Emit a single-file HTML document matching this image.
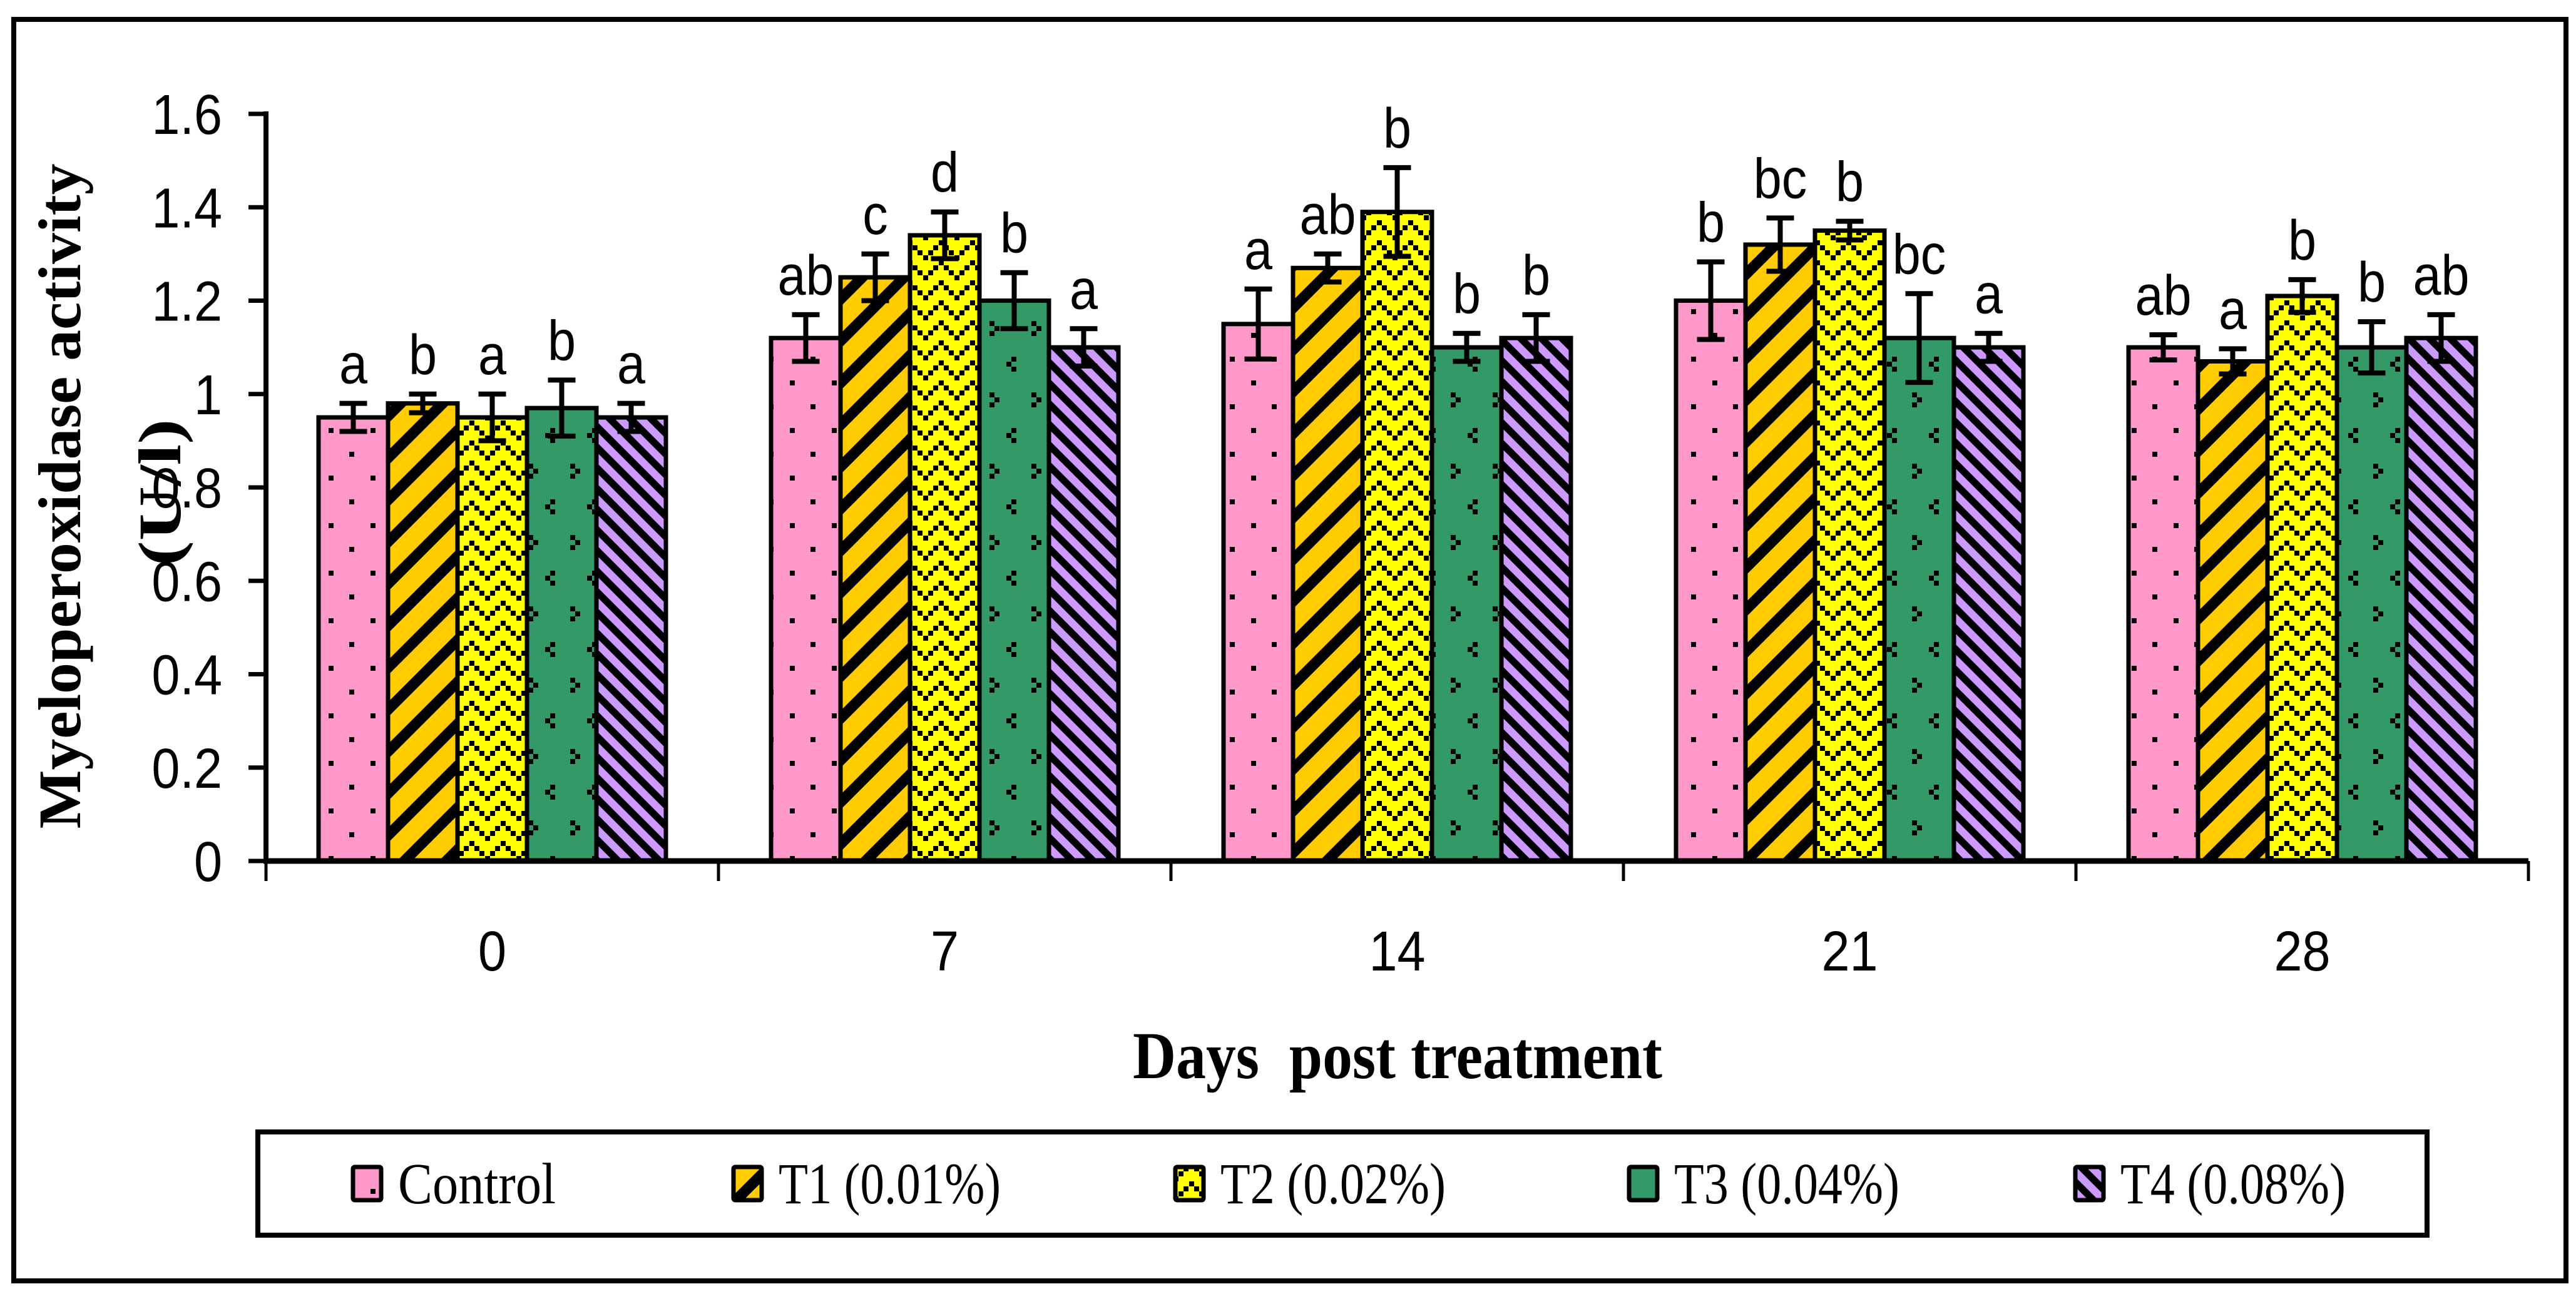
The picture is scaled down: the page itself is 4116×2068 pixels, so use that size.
<!DOCTYPE html>
<html><head><meta charset="utf-8"><style>
html,body{margin:0;padding:0;background:#fff;}
svg{display:block;}
</style></head><body>
<svg id="chart" xmlns="http://www.w3.org/2000/svg" width="4116" height="2068" viewBox="0 0 4116 2068">
<defs>
<pattern id="pCtrl" patternUnits="userSpaceOnUse" width="67" height="76" x="525" y="0">
<rect width="67" height="76" fill="#FF99CC"/>
<rect x="0" y="0" width="8" height="8" fill="#000"/>
<rect x="33" y="38" width="8" height="8" fill="#000"/>
</pattern>
<pattern id="pT1" patternUnits="userSpaceOnUse" width="67" height="67" patternTransform="skewX(-45)">
<rect width="67" height="67" fill="#FFCC00"/>
<rect x="0" y="0" width="24" height="67" fill="#000"/>
</pattern>
<pattern id="pT2" patternUnits="userSpaceOnUse" width="50" height="32">
<rect width="50" height="32" fill="#FFFF00"/>
<g fill="#000">
<rect x="0" y="0" width="8" height="8"/><rect x="8" y="8" width="8" height="8"/><rect x="16" y="16" width="8" height="8"/><rect x="25" y="24" width="8" height="8"/>
<rect x="33" y="16" width="8" height="8"/><rect x="41" y="8" width="8" height="8"/>
</g>
</pattern>
<pattern id="pT3" patternUnits="userSpaceOnUse" width="67" height="114">
<rect width="67" height="114" fill="#339966"/>
<g fill="#000">
<rect x="8" y="0" width="8" height="8"/><rect x="0" y="8" width="8" height="8"/><rect x="8" y="16" width="8" height="8"/>
<rect x="40" y="57" width="8" height="8"/><rect x="48" y="65" width="8" height="8"/><rect x="40" y="73" width="8" height="8"/>
</g>
</pattern>
<pattern id="pT4" patternUnits="userSpaceOnUse" width="33" height="33" patternTransform="skewX(45)">
<rect width="33" height="33" fill="#CC99FF"/>
<rect x="0" y="0" width="16" height="33" fill="#000"/>
</pattern>
</defs>
<rect x="22" y="31" width="4078" height="2016" fill="none" stroke="#000" stroke-width="8"/>
<g id="plot"></g>
<text transform="translate(128,793) rotate(-90)" text-anchor="middle" font-family="Liberation Serif, serif" font-weight="bold" font-size="96" textLength="1063" lengthAdjust="spacingAndGlyphs">Myeloperoxidase activity</text>
<text transform="translate(288,787) rotate(-90)" text-anchor="middle" font-family="Liberation Serif, serif" font-weight="bold" font-size="96" textLength="235" lengthAdjust="spacingAndGlyphs">(U/l)</text>
<text x="1810" y="1723" font-family="Liberation Serif, serif" font-weight="bold" font-size="107" textLength="846" lengthAdjust="spacingAndGlyphs" xml:space="preserve">Days  post treatment</text>
<rect x="412" y="1809" width="3466" height="165" fill="#fff" stroke="#000" stroke-width="8"/>
<g id="legend"></g>
</svg>
<script>
const categories = ["0","7","14","21","28"];
const seriesNames = ["Control","T1 (0.01%)","T2 (0.02%)","T3 (0.04%)","T4 (0.08%)"];
const control = [0.95,1.12,1.15,1.20,1.10];
const t1 = [0.98,1.25,1.27,1.32,1.07];
const t2 = [0.95,1.34,1.39,1.35,1.21];
const t3 = [0.97,1.20,1.10,1.12,1.10];
const t4 = [0.95,1.10,1.12,1.10,1.12];
const errControl = [0.03,0.05,0.075,0.083,0.027];
const errT1 = [0.02,0.05,0.03,0.057,0.027];
const errT2 = [0.05,0.05,0.095,0.02,0.035];
const errT3 = [0.06,0.06,0.03,0.095,0.055];
const errT4 = [0.03,0.04,0.05,0.03,0.05];
const lettersControl = ["a","ab","a","b","ab"];
const lettersT1 = ["b","c","ab","bc","a"];
const lettersT2 = ["a","d","b","b","b"];
const lettersT3 = ["b","b","b","bc","b"];
const lettersT4 = ["a","a","b","a","ab"];
const yTicks = [0,0.2,0.4,0.6,0.8,1,1.2,1.4,1.6];
const yTickLabels = ["0","0.2","0.4","0.6","0.8","1","1.2","1.4","1.6"];

const NS="http://www.w3.org/2000/svg";
const X0=425, X1=4040, Y0=1376, Y1=182, YMAX=1.6;
const groupW=(X1-X0)/categories.length;
const barW=111;
function yScale(v){return Y0-(v/YMAX)*(Y0-Y1);}
function xGroup(i){return X0+groupW*(i+0.5);}
function xBar(i,s){return xGroup(i)-barW*2.5+s*barW;}
function mk(tag,attrs,parent){const e=document.createElementNS(NS,tag);for(const k in attrs)e.setAttribute(k,attrs[k]);parent.appendChild(e);return e;}
const plot=document.getElementById('plot');
const series=[control,t1,t2,t3,t4];
const errs=[errControl,errT1,errT2,errT3,errT4];
const letters=[lettersControl,lettersT1,lettersT2,lettersT3,lettersT4];
const fills=["url(#pCtrl)","url(#pT1)","url(#pT2)","url(#pT3)","url(#pT4)"];
const keys=["control","t1","t2","t3","t4"];

categories.forEach((c,i)=>{
  series.forEach((vals,s)=>{
    const x=xBar(i,s), y=yScale(vals[i]);
    const r=mk('rect',{x:x,y:y,width:barW,height:Y0-y,fill:fills[s],stroke:'#000','stroke-width':7},plot);
    
    
  });
});
categories.forEach((c,i)=>{
  series.forEach((vals,s)=>{
    const cx=xBar(i,s)+barW/2;
    const yt=yScale(vals[i]+errs[s][i]), yb=yScale(vals[i]-errs[s][i]);
    const g=mk('g',{stroke:'#000','stroke-width':8,fill:'none'},plot);
    
    
    mk('line',{x1:cx,y1:yt,x2:cx,y2:yb},g);
    mk('line',{x1:cx-22,y1:yt,x2:cx+22,y2:yt},g);
    mk('line',{x1:cx-22,y1:yb,x2:cx+22,y2:yb},g);
    const t=mk('text',{transform:'translate('+cx+','+(yt-32)+') scale(0.9,1)','text-anchor':'middle','font-family':'Liberation Sans, sans-serif','font-size':90,fill:'#000'},plot);
    t.textContent=letters[s][i];
    
    
  });
});
const ax=mk('g',{stroke:'#000'},plot);


mk('line',{x1:X0,y1:Y1-4,x2:X0,y2:Y0+4,'stroke-width':8},ax);
mk('line',{x1:X0-4,y1:Y0,x2:X1,y2:Y0,'stroke-width':9},ax);
yTicks.forEach((v,k)=>{
  const y=yScale(v);
  const l=mk('line',{x1:397,y1:y,x2:X0,y2:y,'stroke-width':7},ax);
  
  
  const t=mk('text',{transform:'translate(355,'+(y+32)+') scale(0.9,1)','text-anchor':'end','font-family':'Liberation Sans, sans-serif','font-size':90,fill:'#000'},plot);
  t.textContent=yTickLabels[k];
  
  
});
for(let i=0;i<=categories.length;i++){
  const x=X0+groupW*i;
  const l=mk('line',{x1:x,y1:Y0,x2:x,y2:1408,'stroke-width':5},ax);
  
  
}
categories.forEach((c,i)=>{
  const t=mk('text',{transform:'translate('+xGroup(i)+',1551) scale(0.9,1)','text-anchor':'middle','font-family':'Liberation Sans, sans-serif','font-size':90,fill:'#000'},plot);
  t.textContent=c;
  
  
});
const leg=document.getElementById('legend');
const legX=[561,1169,1875,2600,3313];
const legLen=[252,355,360,360,360];
seriesNames.forEach((n,s)=>{
  const g=mk('g',{},leg);
  
  
  mk('rect',{x:legX[s]+3,y:1865,width:45,height:53,fill:fills[s],stroke:'#000','stroke-width':7,rx:3},g);
  const t=mk('text',{x:legX[s]+75,y:1923,'font-family':'Liberation Serif, serif','font-size':93,textLength:legLen[s],lengthAdjust:'spacingAndGlyphs',fill:'#000'},g);
  t.textContent=n;
});
</script>
</body></html>
